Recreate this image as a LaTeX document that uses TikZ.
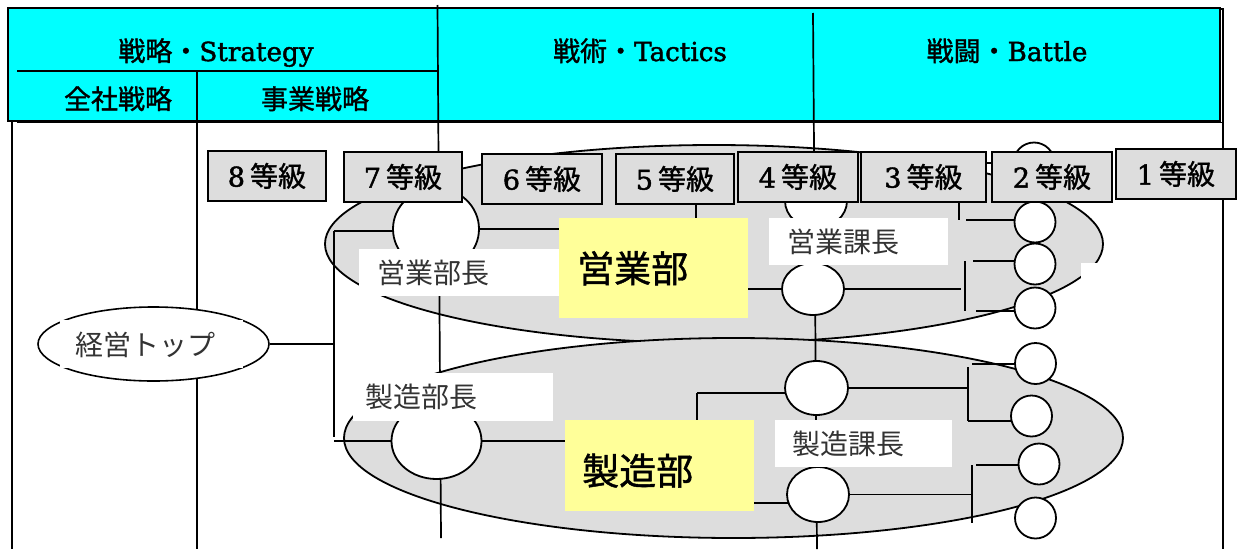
\documentclass[tikz,border=0pt]{standalone}
\usepackage{fontspec}
\newfontfamily\jp{Noto Sans CJK JP}
\newfontfamily\jpb{Noto Sans CJK JP}[FakeBold=1.2]
\newfontfamily\lat{DejaVu Serif}[Scale=0.97,FakeBold=1.6]
\usetikzlibrary{shapes.geometric,calc}
\pgfdeclarelayer{bg}
\pgfdeclarelayer{lines}
\pgfsetlayers{bg,lines,main}
\definecolor{hdrcyan}{HTML}{00FFFF}
\definecolor{boxgray}{HTML}{DDDDDD}
\definecolor{yel}{HTML}{FFFF99}
\definecolor{txtgray}{HTML}{333333}
\begin{document}
\begin{tikzpicture}[x=1pt,y=-1pt,
  ln/.style={line width=1.7pt},
  grade/.style={draw,line width=1.8pt,fill=boxgray,inner sep=0pt,minimum height=50pt,anchor=north west,font=\fontsize{28}{30}\selectfont\jpb},
  person/.style={ellipse,draw,line width=1.8pt,fill=white,inner sep=0pt},
  small/.style={circle,draw,line width=1.8pt,fill=white,inner sep=0pt,minimum size=41pt},
  dept/.style={ellipse,draw,line width=1.8pt,fill=boxgray,inner sep=0pt},
  labbox/.style={fill=white,inner ysep=0pt,anchor=north west,align=left,text=txtgray,minimum height=47pt,font=\fontsize{28}{30}\selectfont\jp},
  yelbox/.style={fill=yel,inner ysep=0pt,anchor=north west,align=left,font=\fontsize{37}{40}\selectfont\jpb},
  hdrtxt/.style={font=\fontsize{27}{30}\selectfont\jpb,inner sep=0pt,anchor=base}
]
\useasboundingbox (0,0) rectangle (1239,549);
\begin{pgfonlayer}{bg}
  \fill[white] (0,0) rectangle (1239,549);
  \node[draw,fill=hdrcyan,line width=1.8pt,inner sep=0pt,minimum width=1212pt,minimum height=113pt,anchor=north west] (hdr) at (7,7) {};
  \node[dept,minimum width=778pt,minimum height=198pt] (eigyo) at (714,244) {};
  \node[dept,minimum width=779pt,minimum height=200pt] (seizo) at (733.5,438) {};
\end{pgfonlayer}

% header texts
\node[hdrtxt] (hs) at (216,61) {戦略・{\lat Strategy}};
\node[hdrtxt] (hz) at (118,109) {全社戦略};
\node[hdrtxt] (hj) at (315,109) {事業戦略};
\node[hdrtxt] (ht) at (640,61) {戦術・{\lat Tactics}};
\node[hdrtxt] (hb) at (1007,61) {戦闘・{\lat Battle}};

% circles (persons)
\node[person,minimum width=86pt,minimum height=82pt] (eb) at (436,229) {};
\node[person,minimum width=62pt,minimum height=54pt] (ek0) at (816,201) {};
\node[person,minimum width=62pt,minimum height=52pt] (ek) at (813,289) {};
\node[person,minimum width=90pt,minimum height=76pt] (sb) at (436.5,441) {};
\node[person,minimum width=63pt,minimum height=54pt] (sk1) at (816.5,388) {};
\node[person,minimum width=62pt,minimum height=55pt] (sk2) at (818,494.5) {};
\node[small] (c0) at (1034,163) {};
\node[small] (c1) at (1035,222) {};
\node[small] (c2) at (1035,264) {};
\node[small] (c3) at (1035,308) {};
\node[small] (d1) at (1035.5,363.5) {};
\node[small] (d2) at (1031.5,416) {};
\node[small] (d3) at (1039,464) {};
\node[small] (d4) at (1035.5,518) {};

% grade boxes
\node[grade,minimum width=118pt] (g8) at (207,150) {{\lat 8}\hspace{5pt}等級};
\node[grade,minimum width=118pt] (g7) at (343,151) {{\lat 7}\hspace{5pt}等級};
\node[grade,minimum width=120pt] (g6) at (481,153) {{\lat 6}\hspace{5pt}等級};
\node[grade,minimum width=118pt] (g5) at (615,153) {{\lat 5}\hspace{5pt}等級};
\node[grade,minimum width=120pt] (g4) at (737,151) {{\lat 4}\hspace{5pt}等級};
\node[grade,minimum width=125pt] (g3) at (860,151) {{\lat 3}\hspace{5pt}等級};
\node[grade,minimum width=120pt] (g2) at (991,151) {{\lat 2}\hspace{5pt}等級};
\node[grade,minimum width=120pt] (g1) at (1115,148) {{\lat 1}\hspace{5pt}等級};

% labels
\node[labbox,text width=164pt,inner xsep=18pt] (lEb) at (359,249) {営業部長};
\node[labbox,text width=176pt,inner xsep=12pt,minimum height=48pt] (lSb) at (353,373) {製造部長};
\node[labbox,text width=143pt,inner xsep=18pt] (lEk) at (769,218) {営業課長};
\node[labbox,text width=143pt,inner xsep=17pt] (lSk) at (775,420) {製造課長};
\node[yelbox,text width=153pt,inner xsep=18pt,minimum height=100pt] (yE) at (559,218) {営業部};
\node[yelbox,text width=155pt,inner xsep=17pt,minimum height=91pt] (yS) at (565,420) {\raisebox{-19pt}[0pt][0pt]{製造部}};

\fill[white] (1081,263) rectangle (1112,292);

% top management
\node[person,line width=1.6pt,minimum width=231pt,minimum height=74pt] (topell) at (153.5,344) {};
\fill[white] (60,320) rectangle (243,368);
\node[inner sep=0pt,text=txtgray,font=\fontsize{28}{30}\selectfont\jp] (toptxt) at (145,345) {経営トップ};

\begin{pgfonlayer}{lines}
  \draw[ln] (12,120) -- (12,549);
  \draw[ln] (17,122.5) -- (1223,122.5);
  \draw[ln] (1219,9) -- (1223,9) -- (1223,549);
  \draw[ln] (17,71) -- (438,71);
  \draw[ln] (197,72) -- (197,549);
  \draw[ln] (437.5,5) -- (441,538);
  \draw[ln] (813,13) -- (817,549);
  % connectors
  \coordinate (jL) at (334,231);
  \coordinate (jLb) at (334,437);
  \draw[ln] (topell.east) -- (topell.east -| jL);
  \draw[ln] (jL) -- (jLb);
  \draw[ln] (jL) -- (jL -| eb.center);
  \draw[ln] (sb.center -| jL) -- (sb.center);
  \coordinate (eT) at (696,203);
  \draw[ln] (eb.center) -- (eb.center -| eT);
  \draw[ln] (eT) -- (eT |- ek.center) -- (ek.center);
  \coordinate (uh) at (961,289);
  \draw[ln] (ek.center) -- (uh);
  \coordinate (ua) at (959,201);
  \coordinate (ub) at (959,220);
  \draw[ln] (ua) -- (ub);
  \coordinate (uc) at (966,220);
  \draw[ln] (uc) -- (uc -| c1.center);
  \coordinate (ud) at (965,261);
  \coordinate (ue) at (965,311);
  \draw[ln] (ud) -- (ue);
  \coordinate (uf) at (973,261);
  \draw[ln] (uf) -- (uf -| c2.center);
  \coordinate (ug) at (976,311);
  \draw[ln] (ug) -- (ug -| c3.center);
  \draw[ln] (c0.center) -- (c0.center -| g3.east);
  \coordinate (lv1) at (697,393);
  \coordinate (lv2) at (697,503);
  \draw[ln] (sb.center) -- (sb.center -| lv1);
  \draw[ln] (lv1) -- (lv2);
  \draw[ln] (lv1) -- (lv1 -| sk1.center);
  \draw[ln] (lv2) -- (lv2 -| sk2.center);
  \coordinate (la) at (968,367);
  \coordinate (lb) at (968,421);
  \draw[ln] (la) -- (lb);
  \draw[ln] (sk1.center) -- (sk1.center -| la);
  \coordinate (lc) at (972,364);
  \draw[ln] (lc) -- (lc -| d1.center);
  \draw[ln] (lb) -- (lb -| d2.center);
  \coordinate (ld) at (972,465);
  \coordinate (le) at (972,523);
  \draw[ln] (ld) -- (le);
  \coordinate (lf) at (976,465);
  \draw[ln] (lf) -- (lf -| d3.center);
  \draw[ln] (sk2.center) -- (sk2.center -| ld);
\end{pgfonlayer}
\end{tikzpicture}
\end{document}
